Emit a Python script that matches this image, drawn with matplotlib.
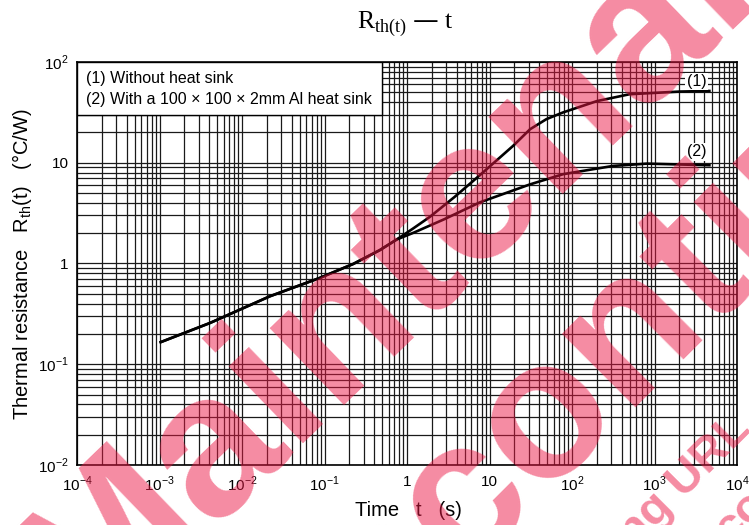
"""
Rth(t) - t  过渡热阻曲线
"""

import numpy as np
import matplotlib.pyplot as plt
from matplotlib.patches import Rectangle

# 共同段 (两条曲线重合部分)
t_common = [0.001, 0.0041, 0.0218, 0.088, 0.223, 0.47, 0.75]
r_common = [0.164, 0.257, 0.473, 0.72, 0.99, 1.36, 1.73]

# (1) 无散热器
t_1 = [1.2, 1.9, 3.8, 7.67, 19.3, 31, 49, 78, 200, 500, 2040, 4800]
r_1 = [2.24, 2.91, 4.6, 7.55, 14.7, 21.5, 27.1, 31.6, 40.9, 47.9, 50.9, 51.6]

# (2) 100x100x2mm 铝散热器
t_2 = [1.2, 2.8, 7.67, 31, 78, 314, 811, 4800]
r_2 = [2.02, 2.74, 4.05, 6.1, 7.7, 9.3, 9.8, 9.44]

x_ticks = [1e-4, 1e-3, 1e-2, 1e-1, 1, 10, 1e2, 1e3, 1e4]
x_labels = ['10$^{\\mathregular{-4}}$', '10$^{\\mathregular{-3}}$', '10$^{\\mathregular{-2}}$',
            '10$^{\\mathregular{-1}}$', '1', '10', '10$^{\\mathregular{2}}$',
            '10$^{\\mathregular{3}}$', '10$^{\\mathregular{4}}$']
y_ticks = [1e-2, 1e-1, 1, 10, 1e2]
y_labels = ['10$^{\\mathregular{-2}}$', '10$^{\\mathregular{-1}}$', '1', '10', '10$^{\\mathregular{2}}$']

legend_lines = ['(1) Without heat sink', '(2) With a 100 \u00d7 100 \u00d7 2mm Al heat sink']

plt.rcParams['font.family'] = ['Liberation Sans', 'DejaVu Sans']

W, H = 749, 525
fig = plt.figure(figsize=(W / 100, H / 100), dpi=100)
ax = fig.add_axes([77 / W, 1 - 465 / H, 660 / W, 403 / H])

ax.set_xscale('log')
ax.set_yscale('log')
ax.set_xlim(1e-4, 1e4)
ax.set_ylim(1e-2, 1e2)

ax.set_axisbelow(True)
ax.grid(which='both', color='#1a1a1a', lw=0.9)
ax.set_xticks(x_ticks)
ax.set_xticklabels(x_labels)
ax.set_yticks(y_ticks)
ax.set_yticklabels(y_labels)
ax.tick_params(which='both', length=0, labelsize=11)
ax.tick_params(axis='x', pad=7)
ax.tick_params(axis='y', pad=6)
for s in ax.spines.values():
    s.set_linewidth(1.2)

# 曲线
t1 = np.array(t_common + t_1)
r1 = np.array(r_common + r_1)
t2 = np.array(t_common + t_2)
r2 = np.array(r_common + r_2)
ax.plot(t1, r1, color='k', lw=1.9, zorder=5, solid_capstyle='butt')
ax.plot(t2, r2, color='k', lw=1.9, zorder=5, solid_capstyle='butt')

box = dict(facecolor='white', edgecolor='none', pad=1.0)
ax.text(3240, 64, '(1)', fontsize=11.5, ha='center', va='center', bbox=box, zorder=6)
ax.text(3240, 12.8, '(2)', fontsize=11.5, ha='center', va='center', bbox=box, zorder=6)

# 图例框
ax.add_patch(Rectangle((0, 0.868), 0.462, 0.132, transform=ax.transAxes,
                       facecolor='white', edgecolor='k', lw=1.0, zorder=3))
ax.text(0.0136, 0.958, legend_lines[0], transform=ax.transAxes, fontsize=11.5,
        va='center', zorder=4)
ax.text(0.0136, 0.908, legend_lines[1], transform=ax.transAxes, fontsize=11.5,
        va='center', zorder=4)

# 标题和坐标轴标签
fig.text(405 / W, 1 - 28 / H, 'R$_{\\mathregular{th(t)}}$ \u2014 t', ha='center',
         va='baseline', fontsize=18.5, family='Liberation Serif')
fig.text(408 / W, 1 - 510 / H, 'Time   t   (s)', ha='center', va='center', fontsize=14.5)
fig.text(22 / W, 1 - 264 / H, 'Thermal resistance   R$_{\\mathregular{th}}$(t)   (\u00b0C/W)',
         ha='center', va='center', rotation=90, fontsize=14.5)

# 水印
wm = dict(rotation_mode='anchor', va='baseline',
          color=(235 / 255, 25 / 255, 70 / 255), alpha=0.5, fontweight='bold',
          zorder=10)
fig.text(88 / W, 1 - 640 / H, 'Maintenance', fontsize=146, rotation=44, ha='left', **wm)
fig.text(243 / W, 1 - 787 / H, 'Discontinued', fontsize=142, rotation=45, ha='left', **wm)
fig.text(752 / W, 1 - 430 / H, 'Please visit the following URL', fontsize=34,
         rotation=45, ha='right', **wm)
fig.text(730 / W, 1 - 545 / H, 'contact', fontsize=34, rotation=45, ha='left', **wm)

fig.savefig('out.png', dpi=100)
